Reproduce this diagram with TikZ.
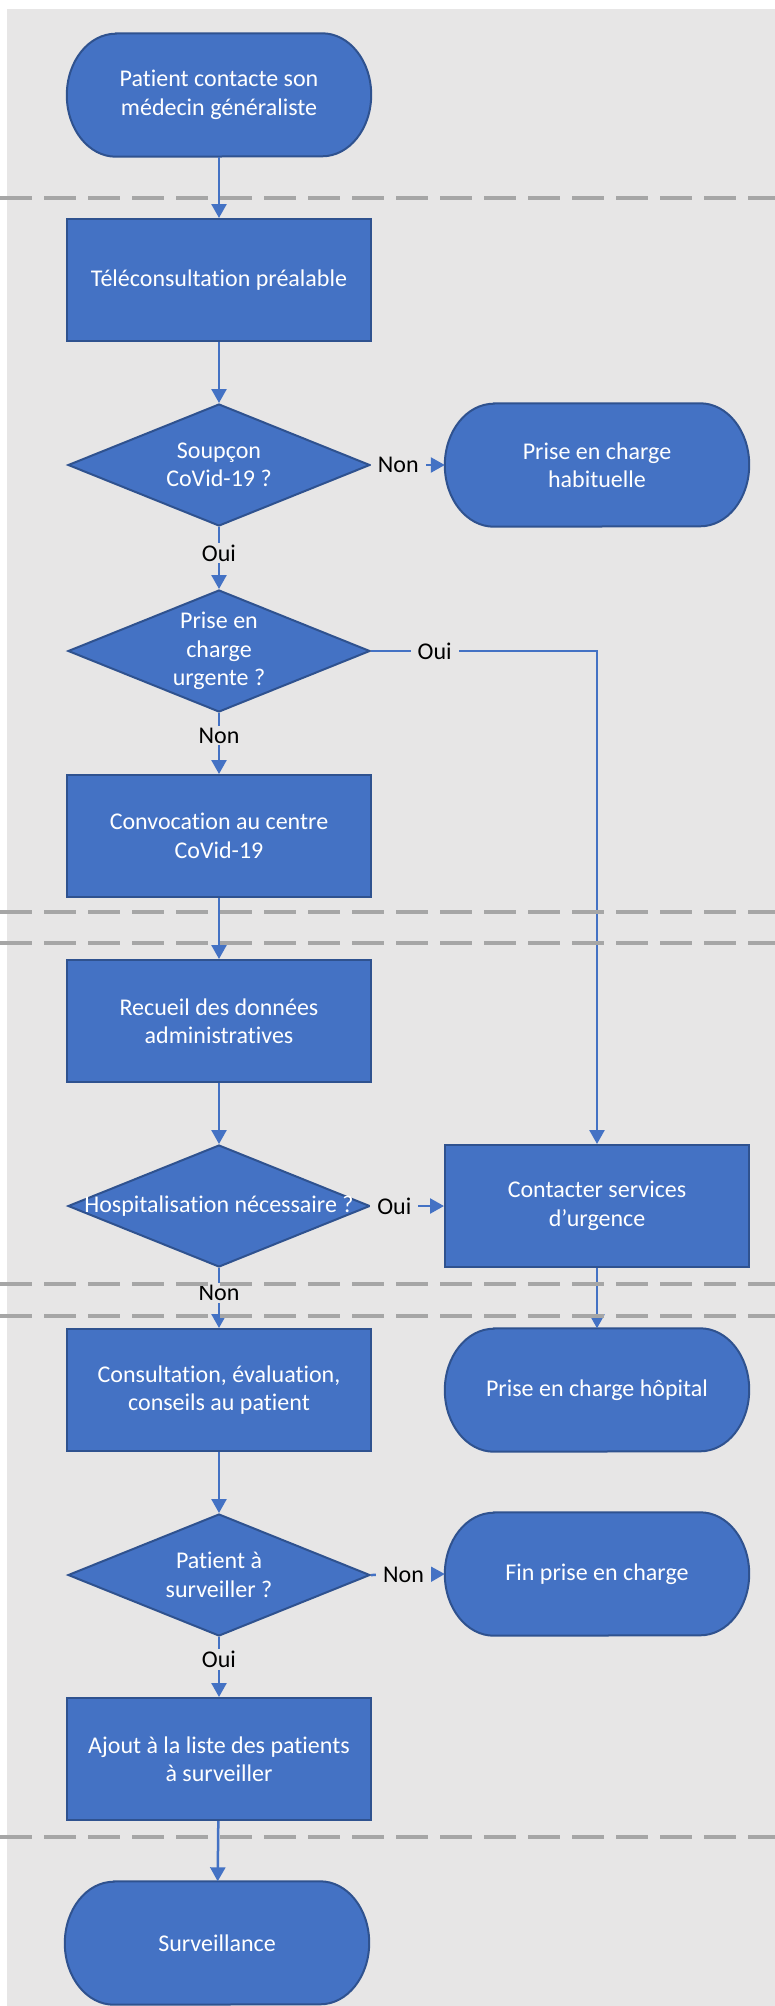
\documentclass[tikz,border=0pt]{standalone}
\usepackage{fontspec}
\setmainfont[RawFeature=-liga]{Carlito}
\usetikzlibrary{shapes.geometric,arrows.meta}
\definecolor{bggray}{HTML}{E7E6E6}
\definecolor{dashgray}{HTML}{A6A6A6}
\definecolor{boxblue}{HTML}{4472C4}
\definecolor{boxborder}{HTML}{2F528F}
\definecolor{linkblue}{HTML}{4472C4}
\pgfdeclarelayer{bglayer}
\pgfdeclarelayer{shapelayer}
\pgfdeclarelayer{toplayer}
\pgfsetlayers{bglayer,shapelayer,main,toplayer}
\tikzset{
  every node/.style={font=\fontsize{24bp}{28.5bp}\selectfont},
  procbox/.style={rectangle, draw=boxborder, fill=boxblue, line width=2bp, minimum width=304bp, minimum height=122bp, text=white, align=center, inner sep=0pt},
  termbox/.style={rectangle, minimum width=304bp, minimum height=123bp, text=white, align=center, inner sep=0pt},
  decision/.style={diamond, draw=boxborder, fill=boxblue, line width=2bp, minimum width=302bp, minimum height=122bp, inner sep=0pt},
  dtext/.style={text=white, align=center, inner sep=0pt},
  link/.style={draw=linkblue, line width=2.5bp, -{Triangle[length=14bp,width=15bp]}},
  lbl/.style={fill=bggray, text=black, inner xsep=7bp, inner ysep=2bp},
  sepline/.style={draw=dashgray, line width=3.5bp, dash pattern=on 32bp off 12bp},
  termline/.style={draw=boxborder, fill=boxblue, line width=2bp},
}
\newcommand\termshape[1]{%
  \begin{pgfonlayer}{shapelayer}
  \path[termline] ([xshift=49bp]#1.north west) -- ([xshift=-49bp]#1.north east)
    arc[start angle=90, end angle=-90, x radius=49bp, y radius=61.5bp]
    -- ([xshift=49bp]#1.south west)
    arc[start angle=270, end angle=90, x radius=49bp, y radius=61.5bp] -- cycle;
  \end{pgfonlayer}}
\begin{document}
\begin{tikzpicture}[x=1bp,y=-1bp]
\useasboundingbox (0,0) rectangle (775,2006);
\begin{pgfonlayer}{bglayer}
  \fill[bggray] (7,9) rectangle (775,2006);
\end{pgfonlayer}

\node[termbox] (start) at (219,95) {Patient contacte son\\médecin généraliste};
\node[procbox] (tele) at (219,280) {Téléconsultation préalable};
\node[decision, label={[dtext]center:{Soupçon\\CoVid-19 ?}}] (d1) at (219,465) {};
\node[termbox] (hab) at (597,465) {Prise en charge\\habituelle};
\node[decision, label={[dtext]center:{Prise en\\charge\\urgente ?}}] (d2) at (219,651) {};
\node[procbox] (conv) at (219,836) {Convocation au centre\\CoVid-19};
\node[procbox] (rec) at (219,1021) {Recueil des données\\administratives};
\node[decision, label={[dtext]center:{Hospitalisation nécessaire ?}}] (d3) at (219,1206) {};
\node[procbox] (contact) at (597,1206) {Contacter services\\d’urgence};
\node[procbox] (consult) at (219,1390) {Consultation, évaluation,\\conseils au patient};
\node[termbox] (hop) at (597,1390) {Prise en charge hôpital};
\node[decision, label={[dtext]center:{Patient à\\surveiller ?}}] (d4) at (219,1575) {};
\node[termbox] (fin) at (597,1574) {Fin prise en charge};
\node[procbox] (ajout) at (219,1759) {Ajout à la liste des patients\\à surveiller};
\node[termbox] (surv) at (217,1943) {Surveillance};

\termshape{start}
\termshape{hab}
\termshape{hop}
\termshape{fin}
\termshape{surv}

\draw[link] (start) -- (tele);
\draw[link] (tele) -- (d1);
\draw[link] (d1.east) -- node[lbl, pos=0.37] (l1) {Non} (hab.west);
\draw[link] (d1.south) -- node[lbl, pos=0.42] (l2) {Oui} (d2.north);
\draw[link] (d2.east) -| node[lbl, pos=0.141] (l3) {Oui} (contact.north);
\draw[link] (d2.south) -- node[lbl, pos=0.37] (l4) {Non} (conv.north);
\draw[link] (conv) -- (rec);
\draw[link] (rec) -- (d3.north);
\draw[link] (d3.east) -- node[lbl, pos=0.32] (l5) {Oui} (contact.west);
\draw[link] (d3.south) -- node[lbl, pos=0.42] (l6) {Non} (consult.north);
\draw[link] (contact) -- (hop);
\draw[link] (consult) -- (d4.north);
\draw[link] (d4.east) -- node[lbl, pos=0.44] (l7) {Non} (fin.west);
\draw[link] (d4.south) -- node[lbl, pos=0.37] (l8) {Oui} (ajout.north);
\draw[link] (ajout) -- (surv);

\begin{pgfonlayer}{toplayer}
  \foreach \yy in {198,912,943,1284,1316,1837}
    \draw[sepline] (0,\yy) -- (775,\yy);
\end{pgfonlayer}
\end{tikzpicture}
\end{document}
